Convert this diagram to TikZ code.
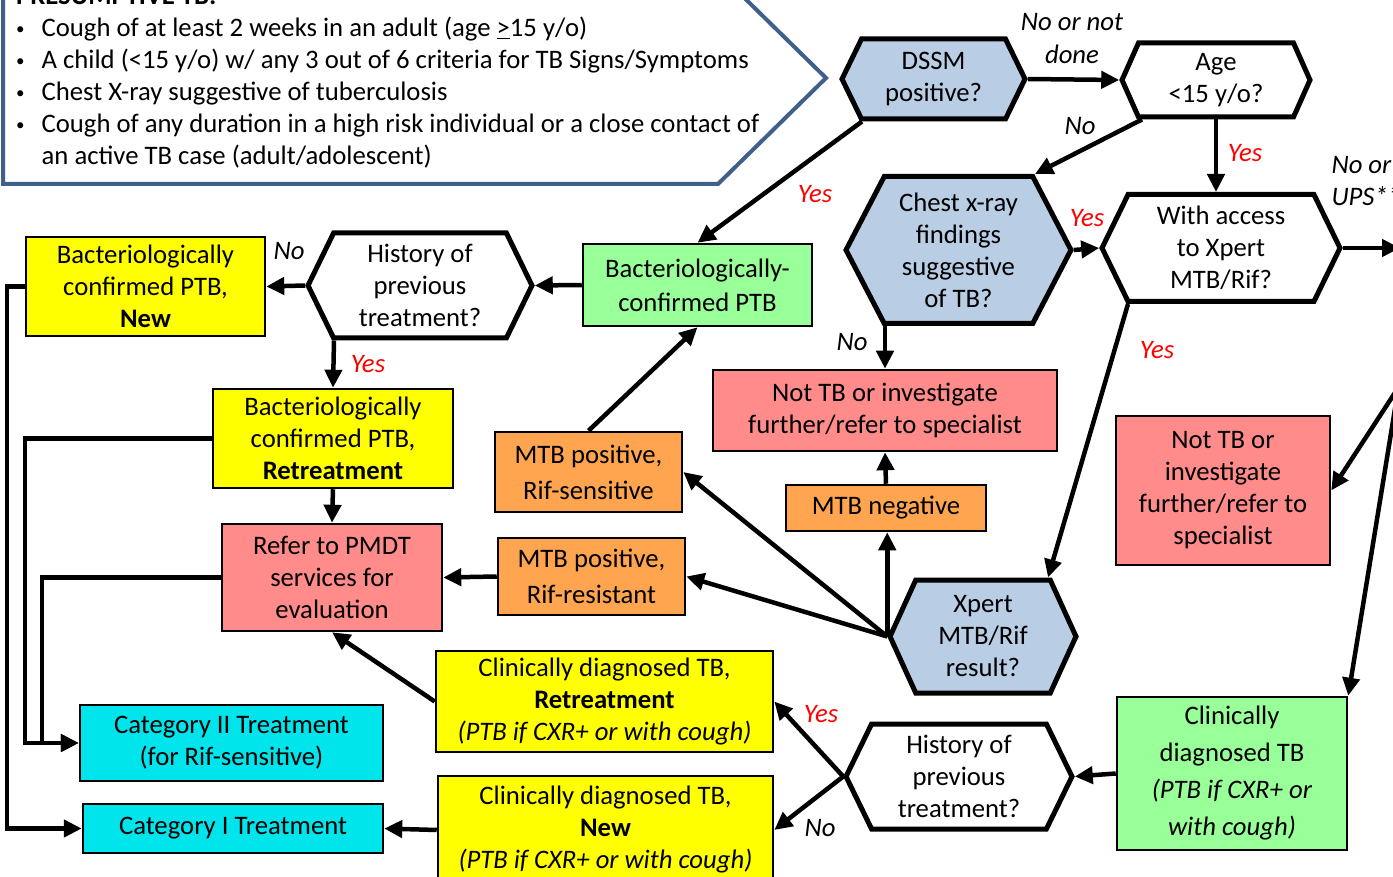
\documentclass[tikz,border=0pt]{standalone}
\usepackage{fontspec}
\setmainfont{Carlito}
\usepackage{tikz}
\usetikzlibrary{shapes.symbols, arrows.meta, calc}
\usepackage{xcolor}
\definecolor{cHex}{HTML}{B9CDE5}
\definecolor{cYellow}{HTML}{FFFF00}
\definecolor{cGreen}{HTML}{99FF99}
\definecolor{cSalmon}{HTML}{FF8B8B}
\definecolor{cOrange}{HTML}{FFA54F}
\definecolor{cCyan}{HTML}{00E4EC}
\definecolor{cFrame}{HTML}{3F5F8C}
\definecolor{cRed}{HTML}{FF0000}
\newcommand\bigtext{\fontsize{26.7}{32}\selectfont}
\newcommand\smallbul{\raisebox{2pt}{\fontsize{17}{32}\selectfont\textbullet}}
\tikzset{
  hexnode/.style={
    signal, signal to=east and west, signal pointer angle=128,
    draw=black, fill=#1, line width=5pt, inner sep=0pt,
    align=center, font=\bigtext,
  },
  hexnode/.default=white,
  boxnode/.style={
    draw=black, fill=#1, line width=2.5pt, inner sep=0pt,
    align=center, font=\bigtext,
  },
  arw/.style={-{Triangle[length=18pt,width=17pt]}, line width=4.5pt, color=black},
  nolbl/.style={font=\bigtext\itshape, text=black, align=center},
  yeslbl/.style={font=\bigtext\itshape, text=cRed},
}

\begin{document}
\begin{tikzpicture}[x=1pt, y=-1pt]
  \useasboundingbox (0,0) rectangle (1393,877);

  % Presumptive TB frame
  \draw[cFrame, line width=4pt, fill=white]
    (3,-28) -- (718,-28) -- (826,78) -- (718,184) -- (3,184) -- cycle;
  \node[anchor=base west, align=left, inner sep=0pt, font=\bigtext]
    (presum) at (16,5) {%
    \begin{tabular}[t]{@{}l@{\hspace{17pt}}l@{}}
      \multicolumn{2}{@{}l}{\textbf{PRESUMPTIVE TB:}}\\
      \smallbul & Cough of at least 2 weeks in an adult (age \underline{>}15 y/o)\\
      \smallbul & A child (<15 y/o) w/ any 3 out of 6 criteria for TB Signs/Symptoms\\
      \smallbul & Chest X-ray suggestive of tuberculosis\\
      \smallbul & Cough of any duration in a high risk individual or a close contact of\\
                & an active TB case (adult/adolescent)
    \end{tabular}};

  % Decision nodes
  \node[hexnode=cHex, minimum width=183, minimum height=80] (dssm) at (933.5,79) {DSSM\\positive?};
  \node[hexnode, minimum width=188, minimum height=74, signal pointer angle=132] (age) at (1216,80) {Age\\<15 y/o?};
  \node[hexnode=cHex, minimum width=225, minimum height=147, signal pointer angle=125] (chest) at (958.5,250)
    {Chest x-ray\\findings\\suggestive\\of TB?};
  \node[hexnode, minimum width=238, minimum height=107] (access) at (1221,248) {With access\\to Xpert\\MTB/Rif?};
  \node[hexnode, minimum width=224, minimum height=105] (hist1) at (420,285.5) {History of\\previous\\treatment?};
  \node[hexnode=cHex, minimum width=186, minimum height=113, signal pointer angle=131] (xpert) at (983,636.5)
    {Xpert\\MTB/Rif\\result?};
  \node[hexnode, minimum width=226, minimum height=105] (hist2) at (959,776.5) {History of\\previous\\treatment?};

  % Result boxes
  \node[boxnode=cYellow, minimum width=239, minimum height=99] (bnew) at (145.5,286.5)
    {Bacteriologically\\confirmed PTB,\\\textbf{New}};
  \node[boxnode=cGreen, minimum width=229, minimum height=82] (bconf) at (697.5,285)
    {Bacteriologically-\\[2pt]confirmed PTB};
  \node[boxnode=cYellow, minimum width=240, minimum height=99] (bretr) at (333,438.5)
    {Bacteriologically\\confirmed PTB,\\\textbf{Retreatment}};
  \node[boxnode=cSalmon, minimum width=220, minimum height=107] (pmdt) at (332,577.5)
    {Refer to PMDT\\services for\\evaluation};
  \node[boxnode=cOrange, minimum width=187, minimum height=80] (rifs) at (588.5,472)
    {MTB positive,\\[4pt]Rif-sensitive};
  \node[boxnode=cOrange, minimum width=187, minimum height=77] (rifr) at (591.5,576.5)
    {MTB positive,\\[4pt]Rif-resistant};
  \node[boxnode=cSalmon, minimum width=344, minimum height=81] (nottbm) at (885,410.5)
    {Not TB or investigate\\further/refer to specialist};
  \node[boxnode=cOrange, minimum width=200, minimum height=46] (mtbneg) at (886,508) {MTB negative};
  \node[boxnode=cSalmon, minimum width=214, minimum height=149] (nottbr) at (1223,490.5)
    {Not TB or\\investigate\\further/refer to\\specialist};
  \node[boxnode=cGreen, minimum width=230, minimum height=153] (cdiag) at (1232,773.5)
    {Clinically\\[5pt]diagnosed TB\\[5pt]\textit{(PTB if CXR+ or}\\[5pt]\textit{with cough)}};
  \node[boxnode=cYellow, minimum width=337, minimum height=101] (cretr) at (604.5,701.5)
    {Clinically diagnosed TB,\\\textbf{Retreatment}\\\textit{(PTB if CXR+ or with cough)}};
  \node[boxnode=cYellow, minimum width=335, minimum height=108] (cnew) at (605.5,830)
    {Clinically diagnosed TB,\\\textbf{New}\\\textit{(PTB if CXR+ or with cough)}};
  \node[boxnode=cCyan, minimum width=303, minimum height=76] (cat2) at (231.5,743)
    {Category II Treatment\\(for Rif-sensitive)};
  \node[boxnode=cCyan, minimum width=300, minimum height=49] (cat1) at (233,828.5) {Category I Treatment};

  % Off-page ends
  \coordinate (offA) at (1400,248);
  \coordinate (offB) at (1400,385);
  \coordinate (offC) at (1400,378);

  % Connectors
  \draw[arw] (dssm.east) -- (age.west);
  \draw[arw] ($(dssm.south)+(-71.5,0)$) -- (bconf.north);
  \draw[arw] ($(age.south)+(-74,0)$) -- ($(chest.north)+(76.5,0)$);
  \draw[arw] (age.south) -- (age.south |- access.north);
  \draw[arw] (chest.east) -- (access.west);
  \draw[arw] ($(chest.south)+(-73.5,0)$) -- (nottbm.north);
  \draw[arw] (access.east) -- (offA);
  \draw[arw] ($(access.south)+(-93,0)$) -- ($(xpert.north)+(65,0)$);
  \draw[arw] (offB) -- (nottbr.east);
  \draw[arw] (offC) -- (cdiag.north east);
  \draw[arw] (xpert.west) -- (xpert.west |- mtbneg.south);
  \draw[arw] (mtbneg.north) -- (nottbm.south);
  \draw[arw] (xpert.west) -- (rifs.east);
  \draw[arw] (xpert.west) -- (rifr.east);
  \draw[arw] (rifs.north) -- (bconf.south);
  \draw[arw] (rifr.west) -- (pmdt.east);
  \draw[arw] (bconf.west) -- (hist1.east);
  \draw[arw] (hist1.west) -- (bnew.east);
  \draw[arw] ($(hist1.south)+(-86,0)$) -- (bretr.north);
  \draw[arw] (bretr.south) -- (pmdt.north);
  \draw[arw] (cretr.west) -- (pmdt.south);
  \draw[arw] (hist2.west) -- (cretr.east);
  \draw[arw] (hist2.west) -- (cnew.east);
  \draw[arw] (cdiag.west) -- (hist2.east);
  \draw[arw] (cnew.west) -- (cat1.east);
  \draw[arw] (bnew.west) -- ++(-18,0) |- (cat1.west);
  \draw[arw] (bretr.west) -- ++(-187,0) |- (cat2.west);
  \draw[arw] (pmdt.west) -- ++(-179,0) |- (cat2.west);

  % Branch labels
  \node[nolbl] (lNoDone) at (1072,39) {No or not\\[1pt]done};
  \node[nolbl] (lNoAge) at (1080,126) {No};
  \node[yeslbl] (lYesAge) at (1245,153) {Yes};
  \node[yeslbl] (lYesDssm) at (815,194) {Yes};
  \node[yeslbl] (lYesChest) at (1087,218) {Yes};
  \node[nolbl, anchor=west, align=left] (lNoUps) at (1328,181) {No or\\UPS**};
  \node[nolbl] (lNoHist1) at (289,251) {No};
  \node[yeslbl] (lYesHist1) at (368,364) {Yes};
  \node[nolbl] (lNoChest) at (852,342) {No};
  \node[yeslbl] (lYesAccess) at (1157,350) {Yes};
  \node[yeslbl] (lYesHist2) at (821,714) {Yes};
  \node[nolbl] (lNoHist2) at (820,828) {No};

\end{tikzpicture}
\end{document}
